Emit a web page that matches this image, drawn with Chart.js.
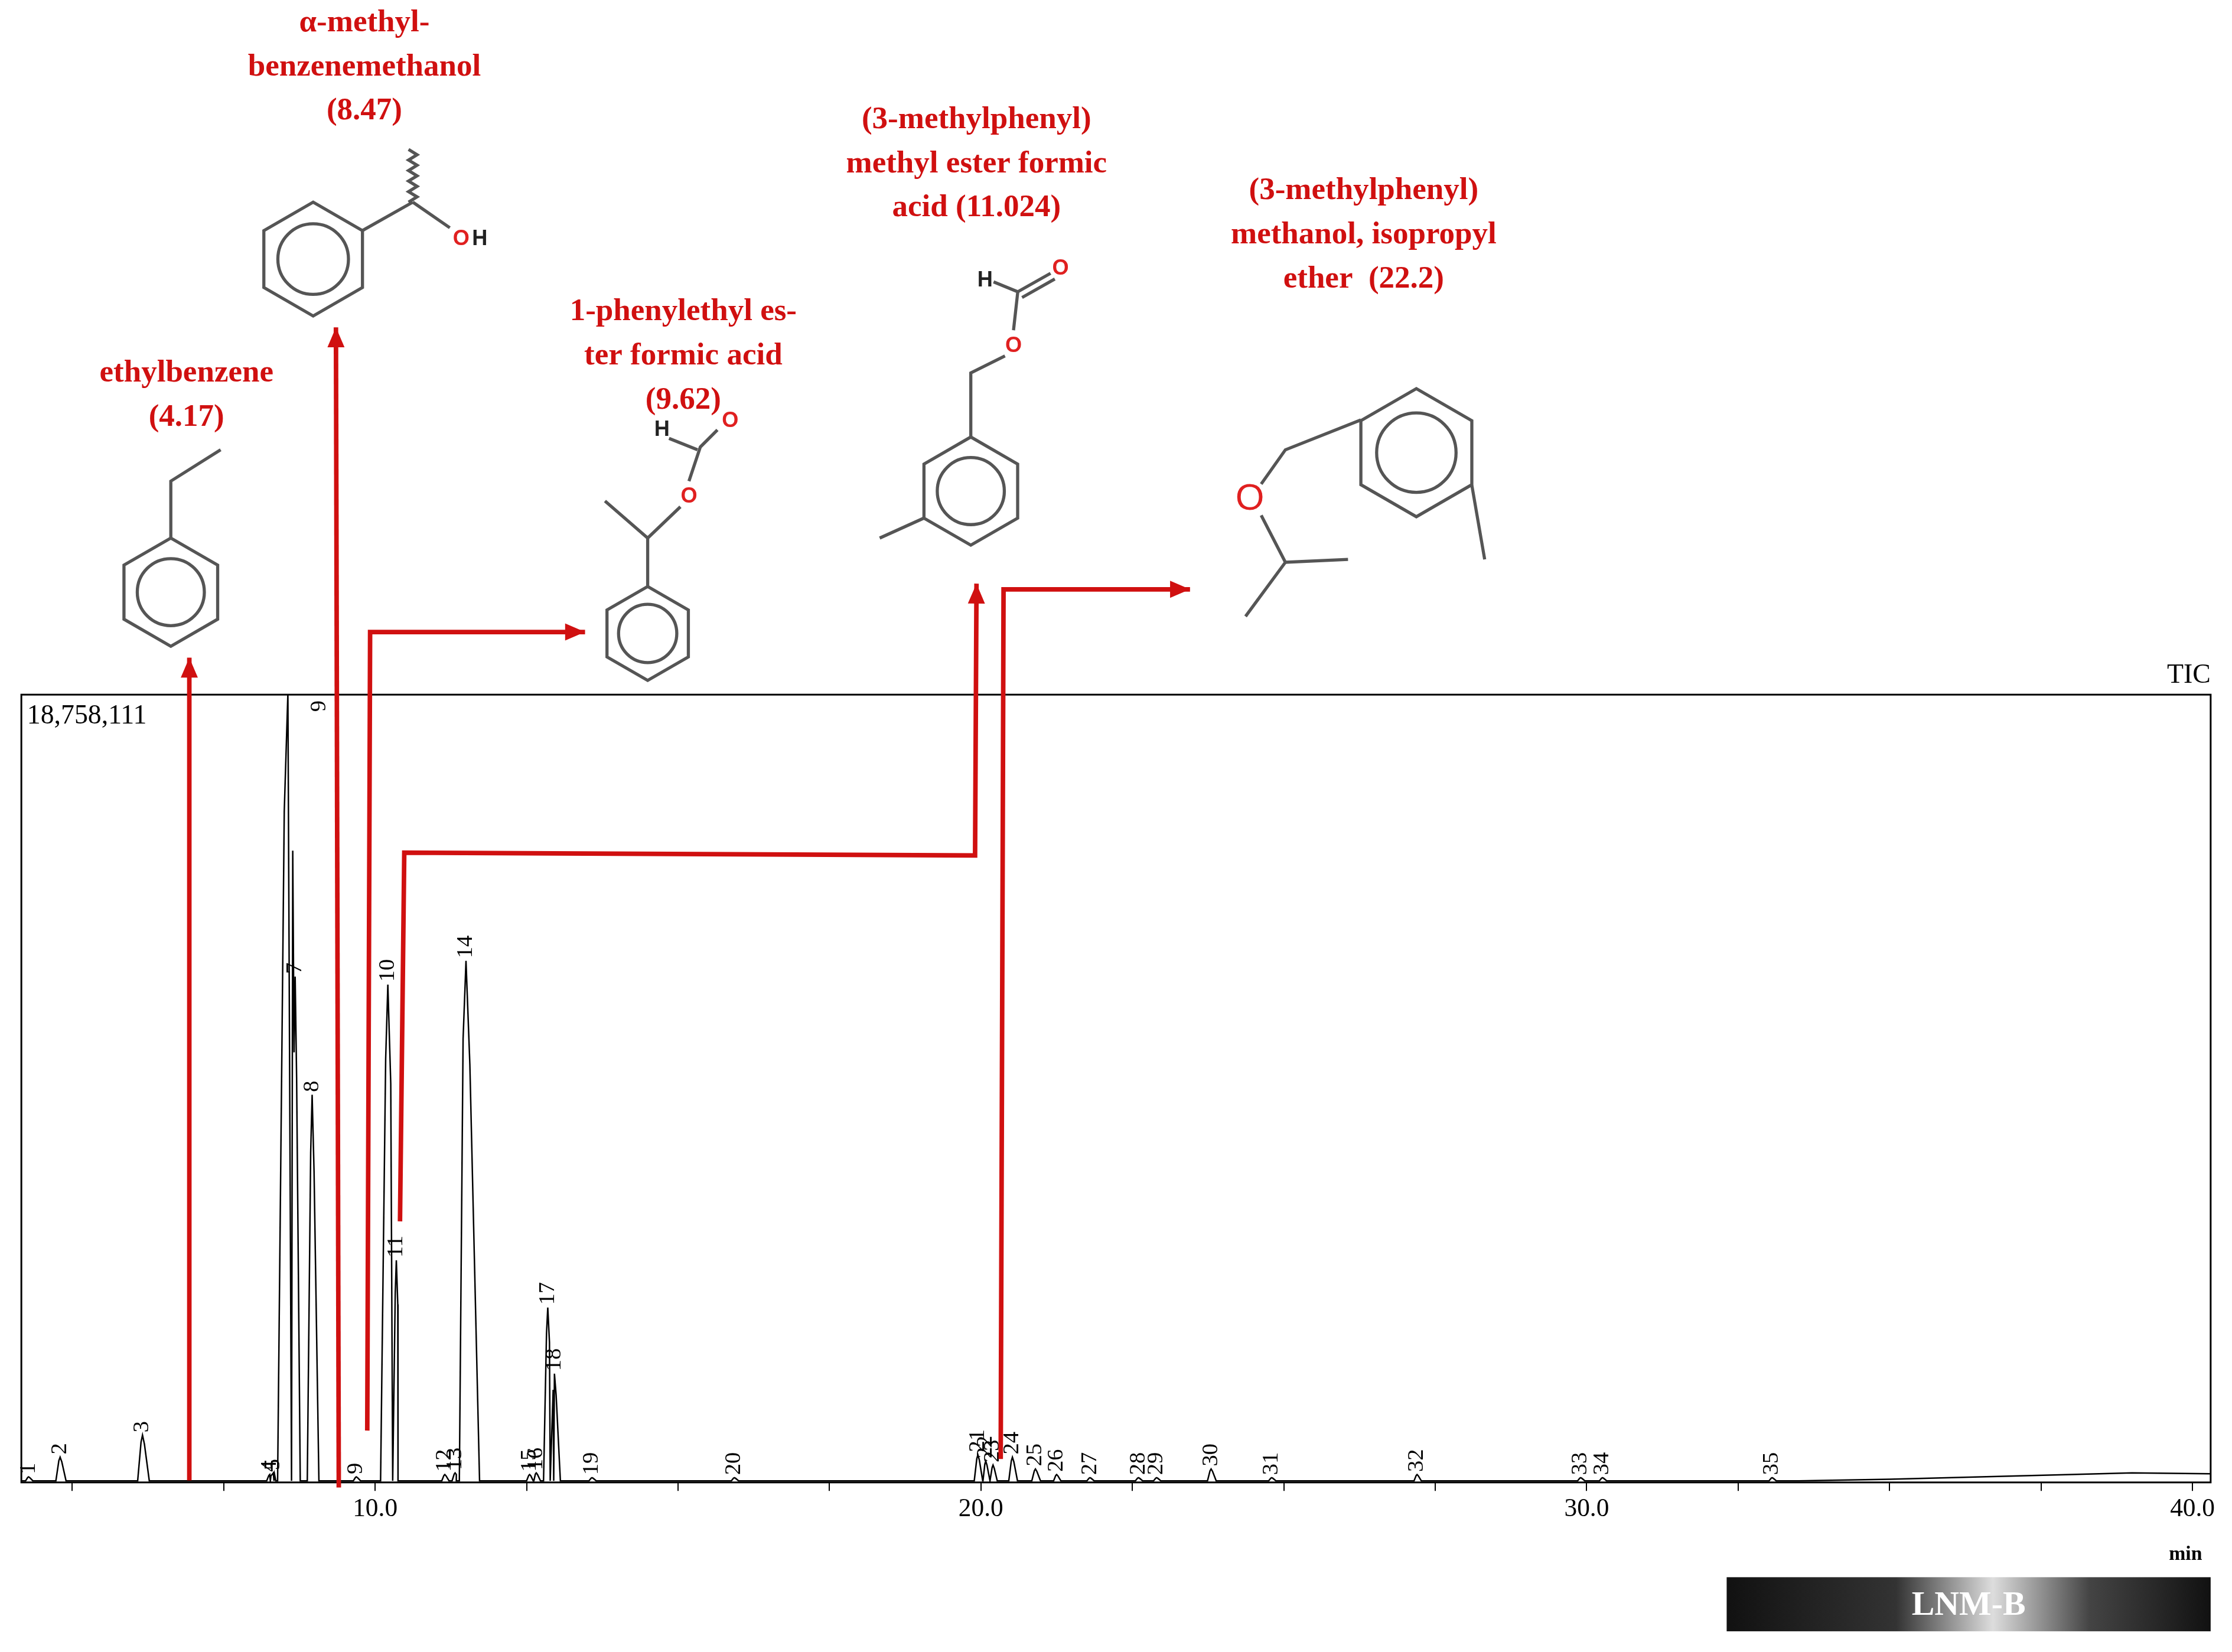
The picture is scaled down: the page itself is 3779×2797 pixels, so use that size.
<!DOCTYPE html>
<html><head><meta charset="utf-8">
<script src="https://cdn.jsdelivr.net/npm/chart.js@4.4.0/dist/chart.umd.min.js"></script>
<style>html,body{margin:0;padding:0;background:#fff}#wrap{width:3779px;height:2797px}</style>
</head><body><div id="wrap"><canvas id="c"></canvas></div>
<script>
// peaks: retention time (min), relative height (top = 18,758,111), label
var peakTimes  = [4.28,4.80,6.16,8.26,8.32,8.56,8.68,8.96,9.69,10.21,10.35,11.15,11.32,11.50,12.55,12.66,12.85,12.96,13.58,15.93,19.95,20.08,20.20,20.52,20.90,21.25,21.80,22.60,22.90,23.80,24.80,27.20,29.90,30.26,33.06];
var peakHeights= [0.005,0.03,0.058,0.008,0.01,1.0,0.64,0.49,0.005,0.63,0.28,0.008,0.01,0.66,0.008,0.01,0.22,0.136,0.004,0.004,0.033,0.025,0.02,0.03,0.015,0.008,0.004,0.004,0.004,0.015,0.004,0.008,0.004,0.004,0.004];
var peakWidths = [0.05,0.07,0.08,0.05,0.05,0.2,0.06,0.08,0.05,0.12,0.06,0.05,0.05,0.16,0.05,0.05,0.07,0.07,0.05,0.05,0.06,0.05,0.05,0.06,0.06,0.05,0.05,0.05,0.05,0.06,0.05,0.05,0.05,0.05,0.05];
var driftTimes = [33.5,35.0,36.5,38.0,39.0,40.3];
var driftLevels= [0.002,0.004,0.007,0.010,0.012,0.011];
var xTickLabels = [10,20,30,40];

var S = 3779/1568;
var pts = [{x:4.16,y:0.002}];
for (var i=0;i<peakTimes.length;i++){
  var t=peakTimes[i], w=peakWidths[i];
  pts.push({x:t-w,y:0.002},{x:t-w*0.3,y:peakHeights[i]*0.85+0.002},{x:t,y:peakHeights[i]+0.002},{x:t+w*0.4,y:peakHeights[i]*0.8+0.002},{x:t+w*1.4,y:0.002});
}
for (var j=0;j<driftTimes.length;j++) pts.push({x:driftTimes[j],y:driftLevels[j]});
pts.sort(function(a,b){return a.x-b.x;});

var RED='#d01010', GR='#555';
function P(v){return v*S;}
function line(ctx,a){ctx.beginPath();ctx.moveTo(P(a[0]),P(a[1]));for(var k=2;k<a.length;k+=2)ctx.lineTo(P(a[k]),P(a[k+1]));ctx.stroke();}
function ring(ctx,cx,cy,r){
  ctx.beginPath();
  for(var k=0;k<6;k++){var an=-Math.PI/2+k*Math.PI/3;var x=P(cx+r*Math.cos(an)),y=P(cy+r*Math.sin(an));k?ctx.lineTo(x,y):ctx.moveTo(x,y);}
  ctx.closePath();ctx.stroke();
  ctx.beginPath();ctx.arc(P(cx),P(cy),P(r*0.62),0,Math.PI*2);ctx.stroke();
}
function txt(ctx,s,x,y,col,size,bold){ctx.fillStyle=col;ctx.font=(bold?'bold ':'')+P(size)+'px "Liberation Serif"';ctx.fillText(s,P(x),P(y));}
function arrow(ctx,a){
  ctx.strokeStyle=RED;ctx.lineWidth=P(3.2);line(ctx,a);
  var n=a.length,x1=a[n-4],y1=a[n-3],x2=a[n-2],y2=a[n-1];
  var an=Math.atan2(y2-y1,x2-x1),L=14,W=6;
  ctx.fillStyle=RED;ctx.beginPath();ctx.moveTo(P(x2),P(y2));
  ctx.lineTo(P(x2-L*Math.cos(an)+W*Math.sin(an)),P(y2-L*Math.sin(an)-W*Math.cos(an)));
  ctx.lineTo(P(x2-L*Math.cos(an)-W*Math.sin(an)),P(y2-L*Math.sin(an)+W*Math.cos(an)));
  ctx.closePath();ctx.fill();
}

var deco = {
  id:'deco',
  afterDraw:function(ch){
    var ctx=ch.ctx,a=ch.chartArea,xs=ch.scales.x,ys=ch.scales.y;
    ctx.save();
    ctx.strokeStyle='#000';ctx.lineWidth=3;ctx.strokeRect(a.left,a.top,a.right-a.left,a.bottom-a.top);
    ctx.fillStyle='#000';ctx.font=P(19)+'px "Liberation Serif"';
    ctx.textAlign='left';ctx.textBaseline='top';ctx.fillText('18,758,111',a.left+P(4),a.top+P(6));
    ctx.textAlign='right';ctx.textBaseline='bottom';ctx.fillText('TIC',a.right,a.top-P(4));
    ctx.font='bold '+P(14)+'px "Liberation Serif"';ctx.textBaseline='top';ctx.fillText('min',a.right-P(6),a.bottom+P(44));
    // peak labels
    ctx.font=P(16)+'px "Liberation Serif"';
    for(var i=0;i<peakTimes.length;i++){
      var px=xs.getPixelForValue(peakTimes[i]),py=ys.getPixelForValue(peakHeights[i]);
      ctx.save();
      if(py-P(40)<a.top){ctx.translate(px+P(20),a.top+P(4));ctx.rotate(Math.PI/2);ctx.textAlign='left';}
      else{ctx.translate(px,py-P(3));ctx.rotate(-Math.PI/2);ctx.textAlign='left';}
      ctx.textBaseline='middle';ctx.fillText(String(i+1),0,0);ctx.restore();
    }
    // compound names
    ctx.textAlign='center';ctx.textBaseline='alphabetic';
    var names=[[['ethylbenzene','(4.17)'],131,268],[['α-methyl-','benzenemethanol','(8.47)'],256,22],
      [['1-phenylethyl es-','ter formic acid','(9.62)'],480,225],[['(3-methylphenyl)','methyl ester formic','acid (11.024)'],686,90],
      [['(3-methylphenyl)','methanol, isopropyl','ether  (22.2)'],958,140]];
    names.forEach(function(n){n[0].forEach(function(s,k){txt(ctx,s,n[1],n[2]+k*31,RED,22,true);});});
    // structures
    ctx.strokeStyle=GR;ctx.lineWidth=P(2.2);
    ring(ctx,120,416,38);line(ctx,[120,378,120,338,155,316]);
    ring(ctx,220,182,40);line(ctx,[254.6,162,290,142]);
    ctx.beginPath();for(var k=0;k<=10;k++){var yy=142-k*3.7;var xx=290+(k%2?3:-3);k?ctx.lineTo(P(xx),P(yy)):ctx.moveTo(P(xx),P(yy));}ctx.stroke();
    line(ctx,[290,142,316,160]);
    ring(ctx,455,445,33);line(ctx,[455,412,455,378,425,352]);line(ctx,[455,378,478,356]);line(ctx,[484,338,492,314,504,302]);line(ctx,[470,308,490,316]);
    ring(ctx,682,345,38);line(ctx,[682,307,682,262,706,250]);line(ctx,[649,364,618,378]);line(ctx,[712,232,715,205,698,198]);line(ctx,[715,205,738,192]);line(ctx,[718,209,741,196]);
    ring(ctx,995,318,45);line(ctx,[956,295,903,316,886,340]);line(ctx,[886,362,903,395,947,393]);line(ctx,[903,395,875,433]);line(ctx,[1034,341,1043,393]);
    ctx.textAlign='center';ctx.textBaseline='middle';
    ctx.font='bold '+P(15)+'px "Liberation Sans"';
    [['O',324,168,'#e02020'],['H',337,168,'#222'],['O',484,349,'#e02020'],['H',465,302,'#222'],['O',513,296,'#e02020'],
     ['O',712,243,'#e02020'],['H',692,197,'#222'],['O',745,189,'#e02020']].forEach(function(q){ctx.fillStyle=q[3];ctx.fillText(q[0],P(q[1]),P(q[2]));});
    ctx.font=P(26)+'px "Liberation Sans"';ctx.fillStyle='#e02020';ctx.fillText('O',P(878),P(351));
    // arrows
    arrow(ctx,[133,1040,133,462]);
    arrow(ctx,[238,1045,236,230]);
    arrow(ctx,[258,1005,260,444,411,444]);
    arrow(ctx,[281,858,284,599,685,601,686,410]);
    arrow(ctx,[703,1025,705,414,836,414]);
    // LNM-B bar
    var g=ctx.createLinearGradient(P(1213),0,P(1553),0);
    g.addColorStop(0,'#111');g.addColorStop(0.35,'#333');g.addColorStop(0.55,'#ddd');g.addColorStop(0.75,'#444');g.addColorStop(1,'#111');
    ctx.fillStyle=g;ctx.fillRect(P(1213),P(1108),P(340),P(38));
    ctx.fillStyle='#fff';ctx.font='bold '+P(24)+'px "Liberation Serif"';ctx.fillText('LNM-B',P(1383),P(1128));
    ctx.restore();
  }
};

new Chart('c',{
  type:'line',
  data:{datasets:[{data:pts,borderColor:'#000',borderWidth:2.5,pointRadius:0,tension:0}]},
  options:{
    responsive:true,maintainAspectRatio:false,animation:false,
    layout:{padding:{left:P(15),right:P(15),top:P(488),bottom:P(2797/S-1040)-P(33)}},
    plugins:{legend:{display:false},tooltip:{enabled:false}},
    scales:{
      x:{type:'linear',min:4.16,max:40.3,
        ticks:{stepSize:2.5,autoSkip:false,color:'#000',font:{family:'Liberation Serif',size:P(18)},maxRotation:0,padding:P(2),
          callback:function(v){return xTickLabels.indexOf(v)>=0?v.toFixed(1):'';}},
        afterBuildTicks:function(ax){var t=[];for(var v=5;v<=40;v+=2.5)t.push({value:v});ax.ticks=t;},
        grid:{drawOnChartArea:false,drawTicks:true,tickLength:P(6),color:'#000',lineWidth:2},border:{display:false}},
      y:{display:false,min:0,max:1.0}
    }
  },
  plugins:[deco]
});
</script></body></html>
